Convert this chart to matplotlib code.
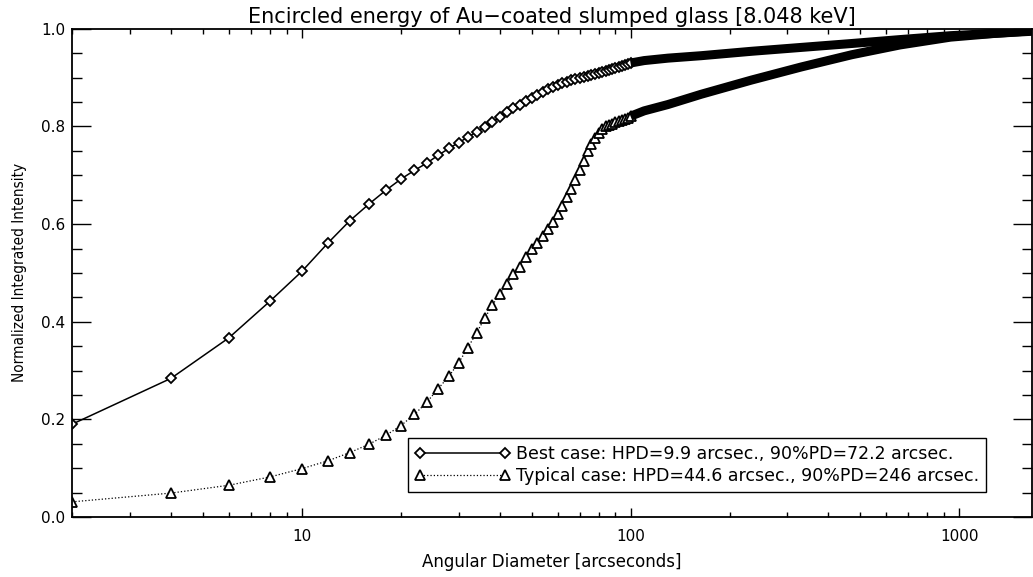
import numpy as np
import matplotlib
matplotlib.use("Agg")
import matplotlib.pyplot as plt
from matplotlib.ticker import LogLocator, MultipleLocator, FixedLocator, NullFormatter

# angular diameters (arcsec) sampled every 2" up to 100"
diam = list(range(2, 102, 2))

best = [0.190, 0.284, 0.367, 0.442, 0.503, 0.561, 0.607, 0.641, 0.669, 0.692,
        0.710, 0.725, 0.741, 0.755, 0.767, 0.778, 0.789, 0.799, 0.809, 0.819,
        0.829, 0.838, 0.845, 0.852, 0.859, 0.865, 0.871, 0.876, 0.881, 0.885,
        0.889, 0.892, 0.895, 0.898, 0.900, 0.902, 0.904, 0.906, 0.908, 0.910,
        0.912, 0.914, 0.916, 0.918, 0.920, 0.922, 0.924, 0.926, 0.928, 0.930]

typical = [0.031, 0.049, 0.065, 0.082, 0.099, 0.115, 0.132, 0.149, 0.167, 0.187,
           0.210, 0.235, 0.263, 0.288, 0.316, 0.347, 0.377, 0.407, 0.434, 0.457,
           0.477, 0.497, 0.513, 0.533, 0.548, 0.562, 0.575, 0.590, 0.605, 0.620,
           0.638, 0.655, 0.672, 0.690, 0.710, 0.730, 0.750, 0.765, 0.777, 0.787,
           0.794, 0.800, 0.803, 0.806, 0.809, 0.811, 0.814, 0.816, 0.818, 0.821]

# beyond 100" the markers merge into a solid band
tail_x = [100, 110, 130, 164, 233, 331, 471, 660, 940, 1300, 1660]
best_tail = [0.930, 0.935, 0.940, 0.945, 0.954, 0.962, 0.970, 0.978, 0.986, 0.991, 0.995]
typical_tail = [0.821, 0.832, 0.845, 0.866, 0.895, 0.922, 0.947, 0.967, 0.983, 0.991, 0.996]

labels = ["Best case: HPD=9.9 arcsec., 90%PD=72.2 arcsec.",
          "Typical case: HPD=44.6 arcsec., 90%PD=246 arcsec."]

plt.rcParams['font.family'] = ['DejaVu Sans']

fig = plt.figure(figsize=(10.33, 5.77), dpi=100)
ax = fig.add_axes([0.0697, 0.104, 0.929, 0.846])

ax.plot(diam, best, color='black', lw=1.1, marker='D', ms=5.3, mfc='white',
        mec='black', mew=1.3, label=labels[0])
ax.plot(diam, typical, color='black', lw=0.9, ls=':', marker='^', ms=7.5, mfc='white',
        mec='black', mew=1.3, label=labels[1])
ax.plot(tail_x, best_tail, color='black', lw=6.5, solid_capstyle='butt')
ax.plot(tail_x, typical_tail, color='black', lw=6.5, solid_capstyle='butt')

ax.set_xscale('log')
ax.set_xlim(2, 1660)
ax.set_ylim(0, 1.0)
ax.xaxis.set_major_locator(FixedLocator([10, 100, 1000]))
ax.xaxis.set_minor_locator(LogLocator(base=10, subs=np.arange(2, 10)))
ax.xaxis.set_minor_formatter(NullFormatter())
ax.set_xticklabels(['10', '100', '1000'])
ax.yaxis.set_major_locator(MultipleLocator(0.2))
ax.yaxis.set_minor_locator(MultipleLocator(0.05))
ax.yaxis.set_major_formatter(plt.FormatStrFormatter('%.1f'))

ax.tick_params(which='both', direction='in', top=True, right=True, width=1.0,
               labelsize=11)
ax.tick_params(axis='x', which='major', length=6.5, pad=9)
ax.tick_params(axis='x', which='minor', length=3.5)
ax.tick_params(axis='y', which='major', length=13.5, pad=5)
ax.tick_params(axis='y', which='minor', length=7)
for s in ax.spines.values():
    s.set_linewidth(1.3)

ax.set_title('Encircled energy of Au\u2212coated slumped glass [8.048 keV]',
             fontsize=15, pad=4)
ax.set_xlabel('Angular Diameter [arcseconds]', fontsize=12, labelpad=6)
ax.set_ylabel('Normalized Integrated Intensity', fontsize=11,
              fontstretch='condensed', labelpad=10)

leg = ax.legend(loc='lower left', bbox_to_anchor=(0.35, 0.051), borderaxespad=0,
                numpoints=2, handlelength=5.5, fontsize=12.5, fancybox=False,
                framealpha=1, edgecolor='black', borderpad=0.4, handletextpad=0.3,
                labelspacing=0.25)
leg.get_frame().set_linewidth(1.0)

fig.savefig('out.png', dpi=100)
